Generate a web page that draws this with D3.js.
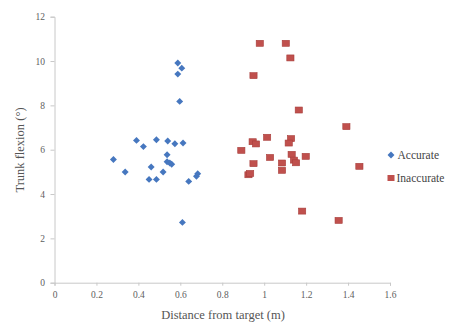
<!DOCTYPE html>
<html>
<head>
<meta charset="utf-8">
<script src="https://cdn.jsdelivr.net/npm/d3@7"></script>
<style>
  body { margin: 0; background: #fff; }
  svg { display: block; }
  svg text { font-family: "Liberation Serif", "Times New Roman", "DejaVu Serif", serif; }
</style>
</head>
<body>
<svg width="451" height="323"></svg>
<script>
// Accurate trials: distance (m), trunk flexion (deg)
const accurateX = [0.281, 0.337, 0.391, 0.424, 0.451, 0.461, 0.486, 0.486, 0.518, 0.540, 0.537, 0.537, 0.550, 0.559, 0.574, 0.588, 0.607, 0.588, 0.597, 0.613, 0.610, 0.640, 0.677, 0.683];
const accurateY = [5.56, 4.99, 6.42, 6.14, 4.66, 5.22, 6.45, 4.66, 4.99, 6.39, 5.77, 5.46, 5.40, 5.34, 6.27, 9.91, 9.68, 9.41, 8.18, 6.30, 2.72, 4.57, 4.80, 4.92];

// Inaccurate trials
const inaccurateX = [0.979, 1.103, 1.125, 0.949, 1.165, 1.392, 0.891, 0.945, 0.961, 1.014, 1.128, 1.117, 1.028, 1.131, 1.198, 1.142, 1.152, 1.085, 1.085, 0.949, 0.925, 0.933, 1.454, 1.181, 1.355];
const inaccurateY = [10.80, 10.80, 10.14, 9.34, 7.79, 7.04, 5.97, 6.36, 6.26, 6.56, 6.50, 6.30, 5.65, 5.79, 5.70, 5.53, 5.41, 5.40, 5.07, 5.37, 4.87, 4.93, 5.25, 3.23, 2.81];

const xTicks = [0, 0.2, 0.4, 0.6, 0.8, 1, 1.2, 1.4, 1.6];
const yTicks = [0, 2, 4, 6, 8, 10, 12];
const seriesNames = ['Accurate', 'Inaccurate'];

const serif = '"Liberation Serif", "Times New Roman", "DejaVu Serif", serif';

const svg = d3.select('svg');
const margin = { top: 16.7, right: 61, bottom: 40.3, left: 54.5 };
const width = 451, height = 323;
const innerWidth = width - margin.left - margin.right;
const innerHeight = height - margin.top - margin.bottom;

const x = d3.scaleLinear().domain([0, 1.6]).range([0, innerWidth]);
const y = d3.scaleLinear().domain([0, 12]).range([innerHeight, 0]);

const g = svg.append('g').attr('transform', `translate(${margin.left},${margin.top})`);

// axes
const yAxis = g.append('g')
  .call(d3.axisLeft(y).tickValues(yTicks).tickSize(4).tickPadding(5.5).tickFormat(d3.format('d')));
const xAxis = g.append('g')
  .attr('transform', `translate(0,${innerHeight})`)
  .call(d3.axisBottom(x).tickValues(xTicks).tickSize(3).tickPadding(6).tickFormat(d => d));

[xAxis, yAxis].forEach(a => {
  a.attr('font-family', serif).attr('font-size', null);
  a.select('.domain').attr('stroke', '#c8c8c8');
  a.selectAll('.tick line').attr('stroke', '#c8c8c8');
  a.selectAll('.tick text').attr('fill', '#606060')
    .style('font-family', serif).style('font-size', '9.5px');
});

// axis titles
svg.append('text')
  .attr('x', 223)
  .attr('y', 319)
  .attr('text-anchor', 'middle')
  .attr('fill', '#555')
  .style('font-family', serif)
  .style('font-size', '12.5px')
  .text('Distance from target (m)');

svg.append('text')
  .attr('transform', 'translate(24,150) rotate(-90)')
  .attr('text-anchor', 'middle')
  .attr('fill', '#555')
  .style('font-family', serif)
  .style('font-size', '12.5px')
  .text('Trunk flexion (°)');

const blue = '#4677bf';
const red = '#c0504d';
const diamond = d3.symbol().type(d3.symbolSquare).size(24);

const accData = accurateX.map((v, i) => ({ x: v, y: accurateY[i] }));
const inaccData = inaccurateX.map((v, i) => ({ x: v, y: inaccurateY[i] }));

g.selectAll('.acc')
  .data(accData)
  .enter()
  .append('path')
  .attr('class', 'acc')
  .attr('d', diamond)
  .attr('transform', d => `translate(${x(d.x)},${y(d.y)}) rotate(45)`)
  .attr('fill', blue);

g.selectAll('.inacc')
  .data(inaccData)
  .enter()
  .append('rect')
  .attr('class', 'inacc')
  .attr('x', d => x(d.x) - 3.6)
  .attr('y', d => y(d.y) - 3)
  .attr('width', 7.2)
  .attr('height', 6)
  .attr('fill', red)
  .attr('stroke', '#a83e3b')
  .attr('stroke-width', 0.6);

// legend
const legend = svg.append('g').attr('transform', 'translate(391,155)');
legend.append('path')
  .attr('d', diamond)
  .attr('transform', 'rotate(45)')
  .attr('fill', blue);
legend.append('text')
  .attr('x', 6.5)
  .attr('y', 4)
  .attr('fill', '#444')
  .style('font-family', serif)
  .style('font-size', '11.5px')
  .text(seriesNames[0]);
legend.append('rect')
  .attr('x', -3.5)
  .attr('y', 20)
  .attr('width', 7)
  .attr('height', 6)
  .attr('fill', red);
legend.append('text')
  .attr('x', 5.5)
  .attr('y', 27)
  .attr('fill', '#444')
  .style('font-family', serif)
  .style('font-size', '11.5px')
  .text(seriesNames[1]);
</script>
</body>
</html>
